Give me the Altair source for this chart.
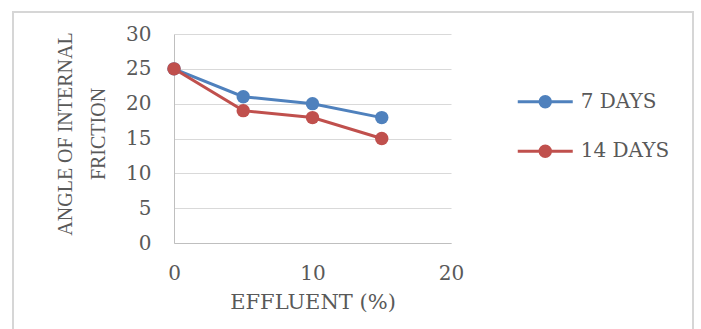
import altair as alt
import pandas as pd

# Angle of internal friction against effluent content, two curing periods
effluent = [0, 5, 10, 15]
days7 = [25, 21, 20, 18]
days14 = [25, 19, 18, 15]
series_names = ["7 DAYS", "14 DAYS"]
colors = ["#4F81BD", "#C0504D"]

df = pd.DataFrame({
    "effluent": effluent * 2,
    "angle": days7 + days14,
    "series": [series_names[0]] * 4 + [series_names[1]] * 4,
})

W, H = 277, 209
PAD_L, PAD_T = 174, 34

# legend glyph: a line with a dot in the middle (path units scaled by sqrt(size)/2)
glyph = ("M-2,0L2,0 "
         "M-0.38,0A0.38,0.38 0 1,0 0.38,0A0.38,0.38 0 1,0 -0.38,0Z")
SYM = 27.5

color = alt.Color(
    "series:N",
    sort=series_names,
    scale=alt.Scale(domain=series_names, range=colors),
    legend=alt.Legend(
        title=None,
        orient="none",
        legendX=516 + SYM / 2 - PAD_L,
        legendY=100 - SYM / 2 - PAD_T,
        symbolType=glyph,
        symbolSize=SYM * SYM,
        symbolStrokeWidth=3,
        rowPadding=50 - SYM,
        labelFont="DejaVu Serif",
        labelFontSize=20,
        labelColor="#595959",
        labelOffset=20,
    ),
)

x = alt.X(
    "effluent:Q",
    scale=alt.Scale(domain=[0, 20]),
    axis=alt.Axis(
        values=[0, 10, 20],
        title="EFFLUENT (%)",
        grid=False,
        ticks=False,
        labelFlush=False,
        domainColor="#bfbfbf",
        labelPadding=20,
        titlePadding=8,
        titleFontSize=21,
    ),
)
y = alt.Y(
    "angle:Q",
    scale=alt.Scale(domain=[0, 30]),
    axis=alt.Axis(
        values=[0, 5, 10, 15, 20, 25, 30],
        title=["ANGLE OF INTERNAL", "FRICTION"],
        titleFont="Liberation Serif",
        titleFontSize=20,
        titleLineHeight=33,
        titleX=-109,
        titleY=H / 2 - 5,
        titleAngle=-90,
        titleAlign="center",
        titleBaseline="middle",
        grid=True,
        gridColor="#d9d9d9",
        ticks=False,
        domainColor="#bfbfbf",
        labelPadding=23,
    ),
)

frame = alt.Chart(pd.DataFrame({"k": [0]})).mark_rect(
    fill="transparent", stroke="#d6d6d6", strokeWidth=2
).encode(
    x=alt.value(13 - PAD_L),
    x2=alt.value(693 - PAD_L),
    y=alt.value(12 - PAD_T),
    y2=alt.value(345 - PAD_T),
)

base = alt.Chart(df)
lines = base.mark_line(strokeWidth=3).encode(x=x, y=y, color=color)
dots = base.mark_circle(size=180, opacity=1).encode(x=x, y=y, color=color)

chart = alt.layer(frame, lines, dots).properties(
    width=W,
    height=H,
    padding={"left": PAD_L, "top": PAD_T, "right": 701 - PAD_L - W, "bottom": 329 - PAD_T - H},
    autosize=alt.AutoSizeParams(type="none"),
    background="white",
).configure_view(
    strokeWidth=0
).configure_axis(
    labelFont="DejaVu Serif",
    labelFontSize=20,
    labelColor="#595959",
    labelFontWeight="normal",
    titleFont="DejaVu Serif",
    titleFontSize=20,
    titleColor="#595959",
    titleFontWeight="normal",
)

chart.save("out.html", embed_options={"renderer": "svg", "actions": False})
